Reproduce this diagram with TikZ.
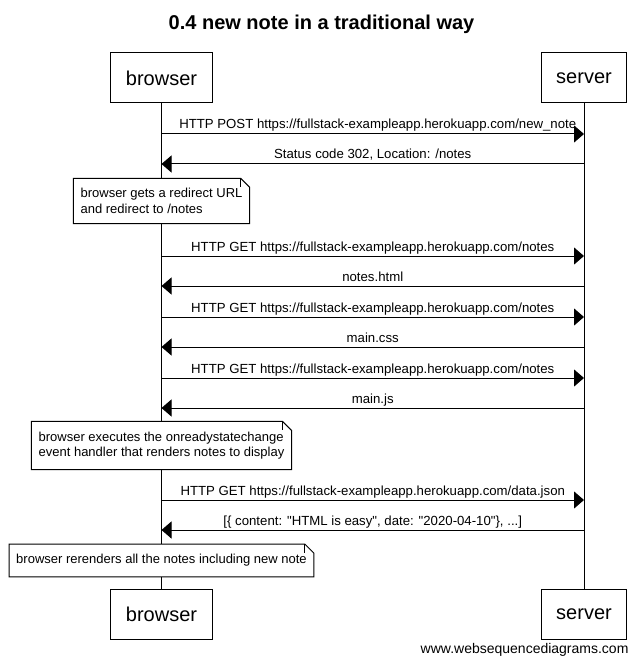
\documentclass[tikz,border=0pt]{standalone}
\usepackage{fontspec}
\setmainfont{Liberation Sans}
\usetikzlibrary{arrows.meta,positioning}
\pgfdeclarelayer{foreground}
\pgfsetlayers{main,foreground}

\newlength{\foldlength}
\setlength{\foldlength}{9pt}

\tikzset{
  actor/.style = {
    shape = rectangle,
    draw,
    line width = 1pt,
    minimum height = 50pt,
    inner xsep = 15pt,
    font = \fontsize{20}{24}\selectfont,
  },
  lifeline/.style = {line width=1pt},
  msg/.style = {line width=1pt, -{Triangle[length=10pt,width=17pt]}},
  lbl/.style = {
    midway,
    anchor = base,
    yshift = 5pt,
    inner sep = 0pt,
    font = \fontsize{13.2}{15.5}\selectfont,
  },
  note/.style = {
    shape = rectangle,
    fill = white,
    align = left,
    inner xsep = 7pt,
    inner ysep = 10pt,
    font = \fontsize{13}{15.5}\selectfont,
    alias = this,
    append after command = {
      \pgfextra{
        \begin{pgfonlayer}{foreground}
          \draw[line width=1pt] (this.south west) -- (this.north west)
            -- ([xshift=-\foldlength]this.north east)
            -- ([yshift=-\foldlength]this.north east)
            -- (this.south east) -- cycle;
          \draw[line width=1pt] ([xshift=-\foldlength]this.north east)
            -- ([xshift=-\foldlength,yshift=-\foldlength]this.north east);
        \end{pgfonlayer}
      }
    }
  },
}

\begin{document}
\begin{tikzpicture}[x=1pt,y=-1pt]
    \useasboundingbox (0,0) rectangle (642,663);

    % title
    \node[anchor=base, font=\fontsize{20}{24}\selectfont\bfseries] (title) at (321.5,30) {0.4 new note in a traditional way};

    % participants
    \node[actor] (browser) at (161.5,78) {browser};
    \node[actor] (server) at (584,78) {server};
    \node[actor] (browser2) at (161.5,614.5) {browser};
    \node[actor] (server2) at (584,614.5) {server};

    \draw[lifeline] (browser.south) -- (browser2.north);
    \draw[lifeline] (server.south) -- (server2.north);

    % message rows
    \foreach \i/\y in {1/134,2/164,3/256,4/286,5/317,6/347,7/378,8/408,9/500,10/530} {
        \coordinate (b\i) at (browser.center |- 0,\y);
        \coordinate (s\i) at (server.center |- 0,\y);
    }

    \draw[msg] (b1) -- node[lbl, xshift=5pt] {HTTP POST https://fullstack-exampleapp.herokuapp.com/new\_note} (s1);
    \draw[msg] (s2) -- node[lbl] {Status code 302, Location: /notes} (b2);

    \node[note] (n1) at (161.5,201) {browser gets a redirect URL\\and redirect to /notes};

    \draw[msg] (b3) -- node[lbl] {HTTP GET https://fullstack-exampleapp.herokuapp.com/notes} (s3);
    \draw[msg] (s4) -- node[lbl] {notes.html} (b4);
    \draw[msg] (b5) -- node[lbl] {HTTP GET https://fullstack-exampleapp.herokuapp.com/notes} (s5);
    \draw[msg] (s6) -- node[lbl] {main.css} (b6);
    \draw[msg] (b7) -- node[lbl] {HTTP GET https://fullstack-exampleapp.herokuapp.com/notes} (s7);
    \draw[msg] (s8) -- node[lbl] {main.js} (b8);

    \node[note] (n2) at (161.5,445.5) {browser executes the onreadystatechange\\event handler that renders notes to display};

    \draw[msg] (b9) -- node[lbl] {HTTP GET https://fullstack-exampleapp.herokuapp.com/data.json} (s9);
    \draw[msg] (s10) -- node[lbl] {[\{ content: \textquotedbl HTML is easy\textquotedbl, date: \textquotedbl 2020-04-10\textquotedbl\}, ...]} (b10);

    \node[note] (n3) at (161.5,560.5) {browser rerenders all the notes including new note};

    % footer
    \node[anchor=base east, font=\fontsize{14}{17}\selectfont] (credit) at (632,653) {www.websequencediagrams.com};

\end{tikzpicture}
\end{document}
